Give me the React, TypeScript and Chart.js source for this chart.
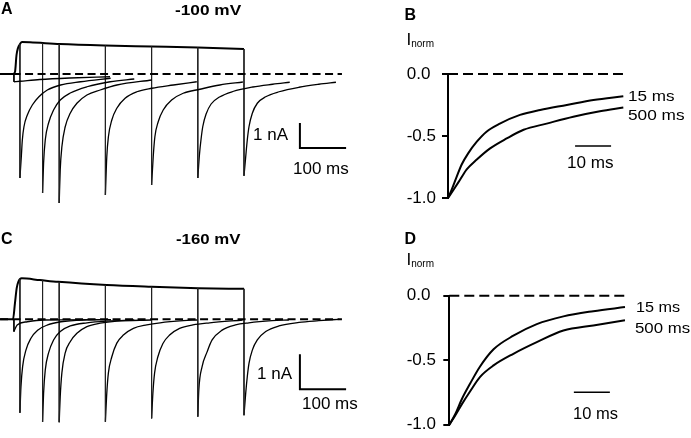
import React, { useEffect, useRef } from "react";
import { Chart, registerables } from "chart.js";
Chart.register(...registerables);

const FONT = '"Liberation Sans", Arial, Helvetica, sans-serif';

// ---- protocol ----
const PULSE_MS = [15, 64, 100, 200, 300, 400, 500];
const SHORTEST_PULSE_MS = 2;
const HOLD_LABELS = ["-100 mV", "-160 mV"];
const PANEL_LETTERS = ["A", "B", "C", "D"];

// ---- Panel A (-100 mV), time in ms, current in nA ----
const A_STEP_T = [-28, 0, 4.3, 7.6, 10.8, 15.2, 19.5, 36.8, 101.7, 199, 301, 400, 500];
const A_STEP_I = [0, 0, 0.08, 0.76, 1.04, 1.2, 1.28, 1.27, 1.2, 1.14, 1.1, 1.06, 1.0];
const A_STEP_END_I = [1.2, 1.24, 1.2, 1.14, 1.1, 1.06, 1.0];
const A_TAIL_DT = [
  [0, 3, 5.2, 8.7, 16, 26.8, 41.1, 59.3, 88.1, 131.4, 196.3],
  [0, 2.2, 5.8, 13, 23.8, 38.3, 60, 96.1, 146.5, 198.5],
  [0, 2.2, 5.8, 13, 23.8, 38.3, 60, 88.7, 124.9, 200.6],
  [0, 3, 6.5, 13.9, 24.7, 42.6, 68, 100.4, 147.2, 197.8],
  [0, 3.5, 7.1, 14.3, 25.1, 43.3, 68.4, 104.5, 147.8, 197.6],
  [0, 3.7, 7.1, 10.8, 18, 28.8, 47, 75.8, 119, 162, 199],
  [0, 3.7, 7.1, 10.8, 18, 28.8, 47, 75.8, 119, 162, 199],
];
const A_TAIL_I = [
  [-4.16, -3.31, -2.64, -2.11, -1.64, -1.24, -0.91, -0.64, -0.44, -0.31, -0.17],
  [-4.76, -3.56, -2.64, -1.96, -1.44, -1.04, -0.76, -0.51, -0.31, -0.2],
  [-5.16, -3.84, -2.91, -2.11, -1.57, -1.17, -0.84, -0.64, -0.44, -0.24],
  [-4.84, -3.31, -2.51, -1.84, -1.37, -0.97, -0.71, -0.57, -0.44, -0.31],
  [-4.44, -3.31, -2.51, -1.91, -1.44, -1.04, -0.77, -0.61, -0.44, -0.32],
  [-4.16, -3.2, -2.6, -2.1, -1.6, -1.2, -0.92, -0.7, -0.52, -0.41, -0.33],
  [-4.07, -3.31, -2.64, -2.11, -1.57, -1.17, -0.91, -0.71, -0.53, -0.41, -0.33],
];
const A_SHORT_DT = [0, 13, 56, 121, 208];
const A_SHORT_I = [-0.31, -0.29, -0.22, -0.16, -0.11];

// ---- Panel C (-160 mV) ----
const C_STEP_T = [-28, 0, 4.3, 8, 11.5, 18.8, 58.4, 98, 202.8, 300, 401, 500];
const C_STEP_I = [0, 0, 0.47, 0.89, 1.07, 1.17, 1.12, 1.07, 0.98, 0.93, 0.89, 0.87];
const C_STEP_END_I = [1.15, 1.12, 1.07, 0.98, 0.93, 0.89, 0.87];
const C_TAIL_DT = [
  [0, 2.2, 5.8, 13, 23.8, 38.3, 60, 88.7, 138.5, 197],
  [0, 2.2, 5.8, 13, 23.8, 38.3, 60, 96.1, 139.4, 198.5],
  [0, 2.2, 5.8, 13, 23.8, 38.3, 60, 88.7, 124.9, 199.1],
  [0, 3, 6.5, 13.9, 24.7, 39, 60.6, 89.6, 118.4, 168.8, 198.5],
  [0, 2.8, 6.5, 13.6, 24.5, 39, 60.6, 89.4, 125.5, 197],
  [0, 2.2, 9.3, 20.1, 31, 52.6, 81.6, 110.4, 160.8, 197],
  [0, 3.7, 7.1, 10.8, 18, 28.8, 47, 75.8, 119, 162, 205.6],
];
const C_TAIL_I = [
  [-2.67, -1.93, -1.35, -0.88, -0.54, -0.31, -0.16, -0.07, -0.02, -0.01],
  [-2.93, -2.11, -1.45, -0.96, -0.59, -0.35, -0.19, -0.1, -0.05, -0.02],
  [-2.94, -2.21, -1.53, -0.96, -0.64, -0.4, -0.21, -0.11, -0.05, -0.02],
  [-2.93, -2.11, -1.53, -1.07, -0.68, -0.45, -0.26, -0.16, -0.1, -0.04, -0.02],
  [-2.83, -2.11, -1.53, -1.07, -0.69, -0.45, -0.26, -0.16, -0.1, -0.02],
  [-2.78, -2.02, -1.35, -0.93, -0.59, -0.31, -0.16, -0.1, -0.04, -0.02],
  [-2.74, -2.11, -1.64, -1.26, -0.88, -0.59, -0.35, -0.19, -0.09, -0.04, 0],
];
const C_SHORT_DT = [0, 7, 29, 64, 210];
const C_SHORT_I = [-0.35, -0.16, -0.07, -0.02, -0.01];

// ---- Panels B, D: normalized tail currents (ms, Inorm) ----
const B_T15 = [0, 1, 2.4, 3.8, 5.6, 8, 10.7, 14.4, 20, 25.6, 33, 40.4, 48.7];
const B_I15 = [-1, -0.935, -0.83, -0.73, -0.64, -0.546, -0.465, -0.4, -0.33, -0.29, -0.25, -0.21, -0.18];
const B_T500 = [0, 1.5, 3.3, 5.2, 8, 11.7, 16.3, 21, 27.4, 34.8, 42.2, 48.7];
const B_I500 = [-1, -0.935, -0.855, -0.77, -0.69, -0.6, -0.52, -0.45, -0.4, -0.344, -0.3, -0.27];
const D_T15 = [0, 1.6, 3.5, 5.8, 8.5, 12.3, 17.8, 24.3, 31.7, 40, 48.8];
const D_I15 = [-1, -0.92, -0.8, -0.68, -0.55, -0.415, -0.31, -0.22, -0.16, -0.12, -0.088];
const D_T500 = [0, 1.6, 3.5, 5.8, 8.5, 12.3, 17.8, 24.3, 31.7, 40, 48.8];
const D_I500 = [-1, -0.93, -0.84, -0.74, -0.63, -0.54, -0.45, -0.36, -0.27, -0.23, -0.19];
const NORM_TICKS = [-1, -0.5, 0];

// ---- scale bars & zero lines (data units) ----
const A_SCALE = { t0: 621, i0: -1.96, ms: 100, nA: 1 };
const C_SCALE = { t0: 621, i0: -1.0, ms: 100, nA: 1 };
const B_SCALE = { t0: 35.3, i: -0.58, ms: 10 };
const D_SCALE = { t0: 34.6, i: -0.747, ms: 10 };
const RAW_ZERO_SPAN = [-28, 712];
const NORM_ZERO_SPAN = [0, 48.6];

type P = { x: number; y: number };
const pts = (xs: number[], ys: number[], dx = 0): P[] => xs.map((x, k) => ({ x: x + dx, y: ys[k] }));
const line = (data: P[], width: number, extra: any = {}) => ({
  data,
  borderColor: "#000",
  borderWidth: width,
  pointRadius: 0,
  fill: false,
  tension: 0,
  clip: false,
  ...extra,
});

function rawDatasets(stepT: number[], stepI: number[], stepEnd: number[], tailDt: number[][], tailI: number[][], shortDt: number[], shortI: number[], sc: any) {
  const ds: any[] = [];
  ds.push(line([{ x: RAW_ZERO_SPAN[0], y: 0 }, { x: RAW_ZERO_SPAN[1], y: 0 }], 2, { borderDash: [8, 4.5] }));
  ds.push(line([{ x: SHORTEST_PULSE_MS, y: 0 }, { x: SHORTEST_PULSE_MS, y: shortI[0] }], 1));
  ds.push(line(pts(shortDt, shortI, SHORTEST_PULSE_MS), 1.3, { cubicInterpolationMode: "monotone" }));
  PULSE_MS.forEach((d, i) => {
    ds.push(line([{ x: d, y: stepEnd[i] }, { x: d, y: tailI[i][0] }], 1, { borderColor: "#222" }));
    ds.push(line(pts(tailDt[i], tailI[i], d), 1.3, { cubicInterpolationMode: "monotone" }));
  });
  ds.push(line(pts(stepT, stepI), 2, { cubicInterpolationMode: "monotone" }));
  ds.push(
    line(
      [
        { x: sc.t0, y: sc.i0 },
        { x: sc.t0, y: sc.i0 - sc.nA },
        { x: sc.t0 + sc.ms, y: sc.i0 - sc.nA },
      ],
      2,
      { borderJoinStyle: "miter" }
    )
  );
  return ds;
}

function rawConfig(datasets: any[], yMin: number, yMax: number) {
  return {
    type: "line",
    data: { datasets },
    options: {
      animation: false,
      responsive: false,
      events: [],
      layout: { padding: 0 },
      plugins: { legend: { display: false }, tooltip: { enabled: false } },
      scales: {
        x: { type: "linear", display: false, min: -28.14, max: 729.44 },
        y: { type: "linear", display: false, min: yMin, max: yMax },
      },
    },
  };
}

function normDatasets(t15: number[], i15: number[], t500: number[], i500: number[], sc: any) {
  return [
    line([{ x: NORM_ZERO_SPAN[0], y: 0 }, { x: NORM_ZERO_SPAN[1], y: 0 }], 2, { borderDash: [10, 5] }),
    line(pts(t15, i15), 2, { cubicInterpolationMode: "monotone" }),
    line(pts(t500, i500), 2, { cubicInterpolationMode: "monotone" }),
    line([{ x: sc.t0, y: sc.i }, { x: sc.t0 + sc.ms, y: sc.i }], 1.5),
  ];
}

function normConfig(datasets: any[], padding: any, axisWidth: number) {
  return {
    type: "line",
    data: { datasets },
    options: {
      animation: false,
      responsive: false,
      events: [],
      layout: { padding },
      plugins: { legend: { display: false }, tooltip: { enabled: false } },
      scales: {
        x: { type: "linear", display: false, min: 0, max: 50 },
        y: {
          type: "linear",
          min: NORM_TICKS[0],
          max: NORM_TICKS[NORM_TICKS.length - 1],
          afterFit: (s: any) => {
            s.width = axisWidth;
          },
          afterBuildTicks: (s: any) => {
            s.ticks = NORM_TICKS.map((v) => ({ value: v }));
          },
          ticks: {
            color: "#000",
            font: { family: FONT, size: 17 },
            crossAlign: "far",
            callback: (v: any) => Number(v).toFixed(1),
          },
          grid: { drawOnChartArea: false, drawTicks: true, tickLength: 6, color: "#000", lineWidth: 2 },
          border: { display: true, color: "#000", width: 2 },
        },
      },
    },
  };
}

function ChartBox({ make, left, top, width, height }: any) {
  const ref = useRef<HTMLCanvasElement | null>(null);
  useEffect(() => {
    const chart = new Chart(ref.current as any, make());
    return () => chart.destroy();
  }, []);
  return <canvas ref={ref} width={width} height={height} style={{ position: "absolute", left, top, width, height }} />;
}

function Label({ x, y, size, bold, sx, children }: any) {
  return (
    <div
      style={{
        position: "absolute",
        left: x,
        top: y,
        fontFamily: FONT,
        fontSize: size,
        lineHeight: `${size}px`,
        fontWeight: bold ? 700 : 400,
        whiteSpace: "pre",
        color: "#000",
        transform: sx ? `scaleX(${sx})` : undefined,
        transformOrigin: "left top",
      }}
    >
      {children}
    </div>
  );
}

function Inorm({ x, y }: any) {
  return (
    <Label x={x} y={y} size={17}>
      I<span style={{ fontSize: 10, position: "relative", top: 2 }}>norm</span>
    </Label>
  );
}

export default function App() {
  useEffect(() => {
    document.body.style.margin = "0";
  }, []);
  const first = `${PULSE_MS[0]} ms`;
  const last = `${PULSE_MS[PULSE_MS.length - 1]} ms`;
  return (
    <div style={{ position: "absolute", left: 0, top: 0, width: 691, height: 438, background: "#fff", overflow: "hidden" }}>
      <ChartBox
        left={0}
        top={0}
        width={350}
        height={215}
        make={() => rawConfig(rawDatasets(A_STEP_T, A_STEP_I, A_STEP_END_I, A_TAIL_DT, A_TAIL_I, A_SHORT_DT, A_SHORT_I, A_SCALE), -5.64, 2.96)}
      />
      <ChartBox
        left={0}
        top={220}
        width={350}
        height={218}
        make={() => rawConfig(rawDatasets(C_STEP_T, C_STEP_I, C_STEP_END_I, C_TAIL_DT, C_TAIL_I, C_SHORT_DT, C_SHORT_I, C_SCALE), -3.391, 2.837)}
      />
      <ChartBox
        left={400}
        top={0}
        width={291}
        height={215}
        make={() => normConfig(normDatasets(B_T15, B_I15, B_T500, B_I500, B_SCALE), { left: 6.7, right: 63, top: 74, bottom: 17 }, 41.3)}
      />
      <ChartBox
        left={400}
        top={220}
        width={291}
        height={218}
        make={() => normConfig(normDatasets(D_T15, D_I15, D_T500, D_I500, D_SCALE), { left: 6.7, right: 61.7, top: 75.7, bottom: 10.7 }, 42.6)}
      />

      <Label x={1} y={1.2} size={16} bold>{PANEL_LETTERS[0]}</Label>
      <Label x={175} y={1.5} size={15} bold sx={1.15}>{HOLD_LABELS[0]}</Label>
      <Label x={253} y={125.8} size={17}>1 nA</Label>
      <Label x={293} y={159.5} size={17}>100 ms</Label>

      <Label x={1} y={231.2} size={16} bold>{PANEL_LETTERS[2]}</Label>
      <Label x={176} y={230.8} size={15} bold sx={1.12}>{HOLD_LABELS[1]}</Label>
      <Label x={257} y={364.8} size={17}>1 nA</Label>
      <Label x={302} y={394.5} size={17}>100 ms</Label>

      <Label x={404.5} y={7.2} size={16} bold>{PANEL_LETTERS[1]}</Label>
      <Inorm x={406.5} y={31.1} />
      <Label x={628} y={88} size={15} sx={1.14}>{first}</Label>
      <Label x={628} y={107.3} size={15} sx={1.15}>{last}</Label>
      <Label x={566.7} y={154.6} size={16} sx={1.07}>10 ms</Label>

      <Label x={404.5} y={230.5} size={16} bold>{PANEL_LETTERS[3]}</Label>
      <Inorm x={406.5} y={251.1} />
      <Label x={636} y={299} size={15} sx={1.08}>{first}</Label>
      <Label x={635} y={319.7} size={15} sx={1.12}>{last}</Label>
      <Label x={573.3} y={406.2} size={16} sx={1.03}>10 ms</Label>
    </div>
  );
}
